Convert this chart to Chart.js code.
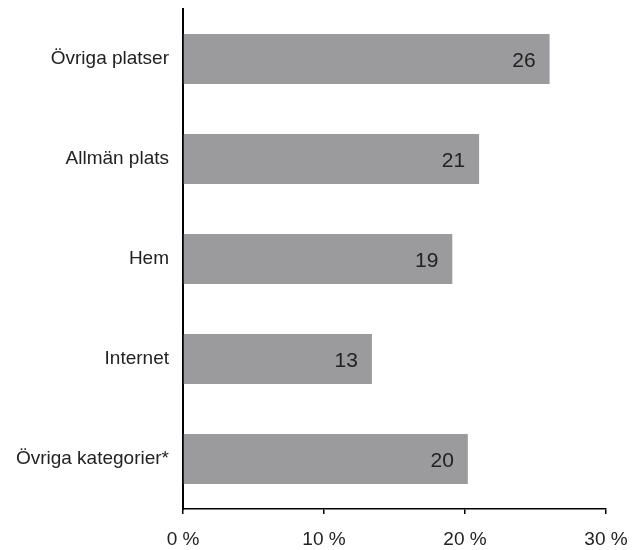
<!DOCTYPE html>
<html>
<head>
<meta charset="utf-8">
<script src="https://cdn.jsdelivr.net/npm/chart.js@4/dist/chart.umd.min.js"></script>
<style>
    html, body { margin: 0; padding: 0; background: #fff; }
    .wrap { width: 635px; height: 550px; }
</style>
</head>
<body>
<div class="wrap"><canvas id="brottChart" width="635" height="550"></canvas></div>
<script>
// Kategorier och andel (%)
const kategorier = ['Övriga platser', 'Allmän plats', 'Hem', 'Internet', 'Övriga kategorier*'];
const andelar = [26, 21, 19.1, 13.4, 20.2];
const etiketter = ['26', '21', '19', '13', '20'];
const xTicks = [0, 10, 20, 30];

const fontFamily = '"Liberation Sans", "Helvetica Neue", Arial, sans-serif';

// Skriver värdet inne i stapelns ände
const vardeEtiketter = {
    id: 'vardeEtiketter',
    afterDatasetsDraw(chart) {
        const ctx = chart.ctx;
        const meta = chart.getDatasetMeta(0);
        ctx.save();
        ctx.font = '21px ' + fontFamily;
        ctx.fillStyle = '#222';
        ctx.textAlign = 'right';
        ctx.textBaseline = 'middle';
        meta.data.forEach((bar, i) => {
            ctx.fillText(etiketter[i], bar.x - 14, bar.y + 2);
        });
        ctx.restore();
    }
};

const ctx = document.getElementById('brottChart').getContext('2d');
new Chart(ctx, {
    type: 'bar',
    data: {
        labels: kategorier,
        datasets: [{
            data: andelar,
            backgroundColor: '#9b9b9d',
            borderWidth: 0,
            barPercentage: 0.5,
            categoryPercentage: 1
        }]
    },
    options: {
        indexAxis: 'y',
        responsive: false,
        animation: false,
        layout: { padding: { top: 9, right: 29, bottom: 0, left: 0 } },
        plugins: {
            legend: { display: false },
            tooltip: { enabled: false }
        },
        scales: {
            x: {
                min: 0,
                max: 30,
                afterBuildTicks: (scale) => { scale.ticks = xTicks.map(v => ({ value: v })); },
                afterFit: (scale) => {
                    scale.height = 41;
                    scale.paddingLeft = 0;
                    scale.paddingRight = 0;
                },
                grid: { drawOnChartArea: false, tickLength: 5, color: '#000', lineWidth: 1.5 },
                border: { display: true, color: '#000', width: 1.5 },
                ticks: {
                    padding: 14,
                    maxRotation: 0,
                    color: '#222',
                    font: { family: fontFamily, size: 19 },
                    callback: (v) => v + ' %'
                }
            },
            y: {
                afterFit: (scale) => {
                    scale.width = 183;
                    scale.paddingTop = 0;
                    scale.paddingBottom = 0;
                },
                grid: { drawOnChartArea: false, drawTicks: false },
                border: { display: true, color: '#000', width: 2 },
                ticks: {
                    padding: 14,
                    color: '#222',
                    font: { family: fontFamily, size: 19 }
                }
            }
        }
    },
    plugins: [vardeEtiketter]
});
</script>
</body>
</html>
